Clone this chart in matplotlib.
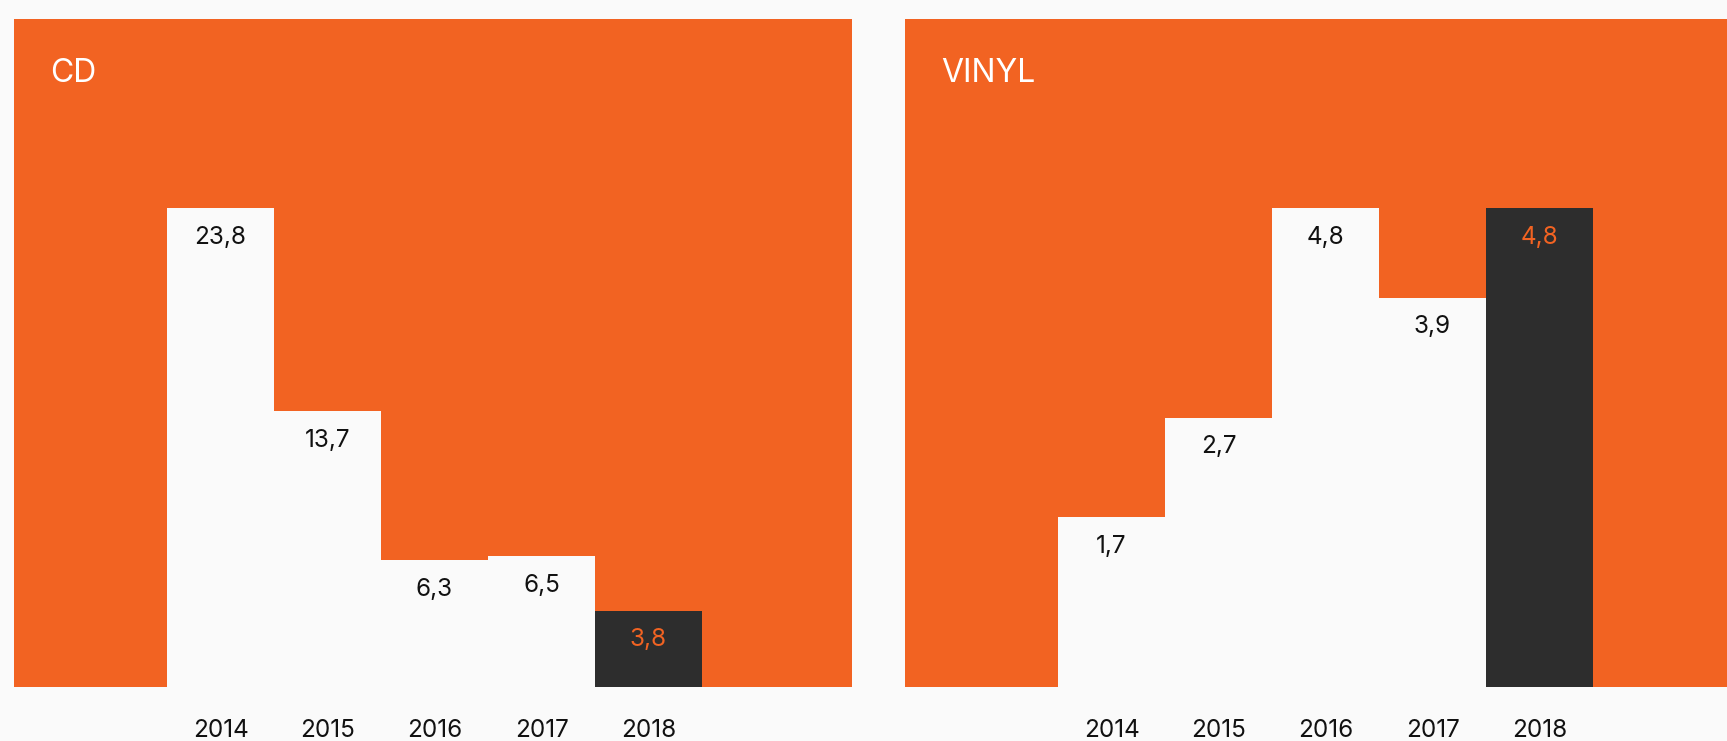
import matplotlib
matplotlib.use("Agg")
import matplotlib.pyplot as plt

years = ["2014", "2015", "2016", "2017", "2018"]
cd_values = [23.8, 13.7, 6.3, 6.5, 3.8]
vinyl_values = [1.7, 2.7, 4.8, 3.9, 4.8]
cd_labels = ["23,8", "13,7", "6,3", "6,5", "3,8"]
vinyl_labels = ["1,7", "2,7", "4,8", "3,9", "4,8"]
titles = ["CD", "VINYL"]

ORANGE = "#F26322"
BG = "#FAFAFA"
DARK = "#2D2D2D"
FONT = ["Inter", "DejaVu Sans"]

W, H = 1727, 741
fig = plt.figure(figsize=(W / 100, H / 100), dpi=100, facecolor=BG)

panel_w, panel_h = 838, 668
bottom_px = H - 687
lefts = [14, 905]

for left, title, vals, labs in zip(lefts, titles,
                                   [cd_values, vinyl_values],
                                   [cd_labels, vinyl_labels]):
    ax = fig.add_axes([left / W, bottom_px / H, panel_w / W, panel_h / H])
    ax.set_facecolor(ORANGE)
    for s in ax.spines.values():
        s.set_visible(False)
    x = list(range(len(years)))
    colors = [BG] * (len(years) - 1) + [DARK]
    ax.bar(x, vals, width=1.0, color=colors, linewidth=0)
    ax.set_xlim(-1.93, -1.93 + panel_w / 107)
    ax.set_ylim(0, max(vals) * 1.395)
    ax.set_yticks([])
    ax.set_xticks(x, years)
    ax.tick_params(axis="x", length=0, pad=23, labelsize=17.5, labelcolor="#111111")
    for t in ax.get_xticklabels():
        t.set_family(FONT)
    for i, (v, lab) in enumerate(zip(vals, labs)):
        col = ORANGE if i == len(vals) - 1 else "#111111"
        ax.annotate(lab, (i, v), xytext=(0, -29), textcoords="offset pixels",
                    ha="center", va="center", fontsize=17.5, color=col,
                    family=FONT)
    ax.text(36 / panel_w, 1 - 54 / panel_h, title, transform=ax.transAxes,
            ha="left", va="center", fontsize=23, color="white",
            family=FONT, fontweight="normal")

fig.savefig("out.png", dpi=100, facecolor=BG)
